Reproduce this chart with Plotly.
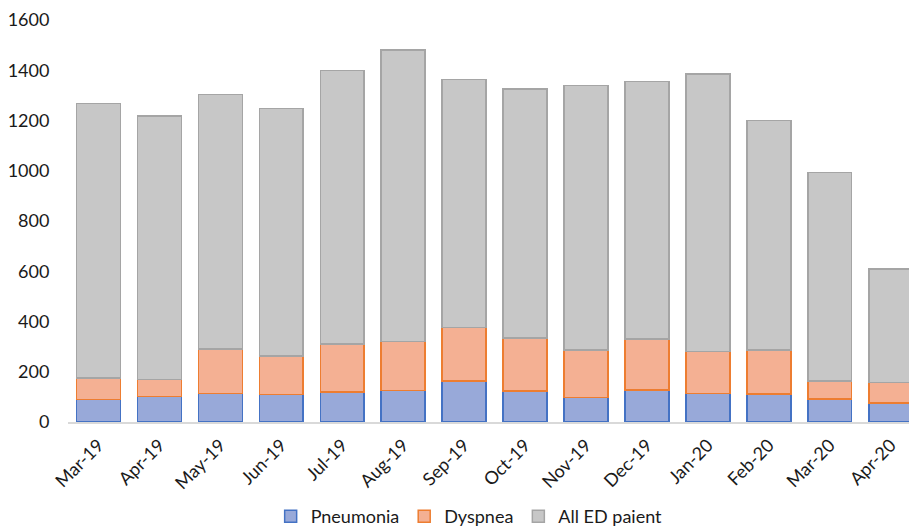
import plotly.graph_objects as go

months = ["Mar-19", "Apr-19", "May-19", "Jun-19", "Jul-19", "Aug-19", "Sep-19",
          "Oct-19", "Nov-19", "Dec-19", "Jan-20", "Feb-20", "Mar-20", "Apr-20"]
pneumonia = [90, 102, 113, 110, 120, 125, 163, 124, 97, 128, 113, 112, 92, 75]
dyspnea = [85, 68, 177, 153, 191, 195, 213, 211, 190, 203, 168, 175, 71, 83]
all_ed = [1092, 1048, 1013, 985, 1089, 1160, 988, 991, 1052, 1025, 1104, 913, 830, 450]
y_ticks = [0, 200, 400, 600, 800, 1000, 1200, 1400, 1600]

FONT = "Lato, 'Noto Sans', sans-serif"

fig = go.Figure()
fig.add_trace(go.Bar(name="Pneumonia", x=months, y=pneumonia,
                     marker=dict(color="#98a9d9", line=dict(color="#4472c4", width=1.5))))
fig.add_trace(go.Bar(name="Dyspnea", x=months, y=dyspnea,
                     marker=dict(color="#f4b093", line=dict(color="#ed7d31", width=1.5))))
fig.add_trace(go.Bar(name="All ED paient", x=months, y=all_ed,
                     marker=dict(color="#c7c7c7", line=dict(color="#a5a5a5", width=1.5))))

fig.update_layout(
    barmode="stack",
    bargap=0.28,
    width=909, height=528,
    margin=dict(l=68, r=0, t=20, b=106, autoexpand=False),
    plot_bgcolor="white", paper_bgcolor="white",
    font=dict(family=FONT, size=18, color="#1a1a1a"),
    showlegend=True,
    legend=dict(orientation="h", x=0.477, xanchor="center", y=-0.235, yanchor="middle",
                font=dict(size=18), traceorder="normal", itemwidth=30),
)
fig.update_xaxes(range=[-0.5, 13.3], tickangle=-45, showline=True, linecolor="#d9d9d9",
                 linewidth=1.5, showgrid=False, ticks="outside", ticklen=4,
                 tickcolor="rgba(0,0,0,0)", tickfont=dict(size=18), automargin=False)
fig.update_yaxes(range=[0, 1600], tickvals=y_ticks, showgrid=False, zeroline=False,
                 showline=False, ticks="outside", ticklen=14, tickcolor="rgba(0,0,0,0)",
                 tickfont=dict(size=18), automargin=False)

fig.write_html("out.html", config={"displayModeBar": False},
               post_script="document.body.style.margin='0';")
